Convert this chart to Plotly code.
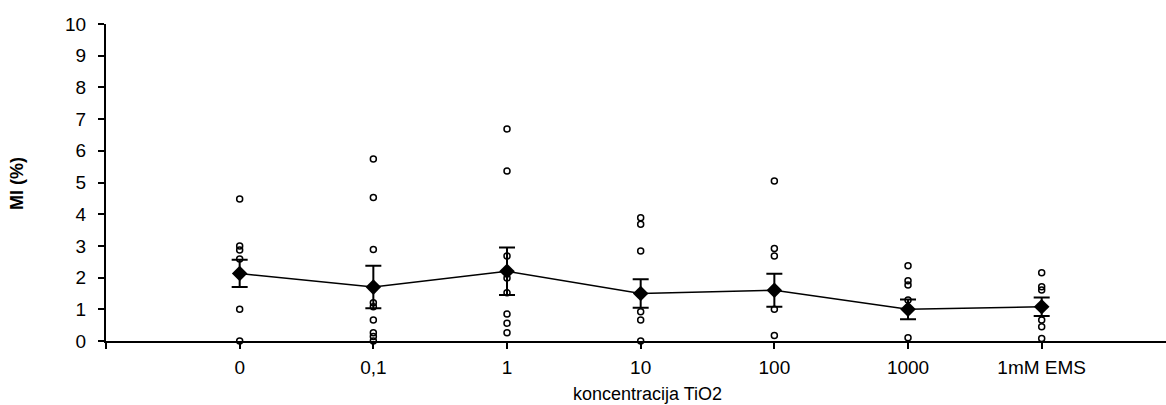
import plotly.graph_objects as go

# Category labels (TiO2 concentration) and their slot positions on the x axis
categories = ["0", "0,1", "1", "10", "100", "1000", "1mM EMS"]
positions = [1, 2, 3, 4, 5, 6, 7]

# Individual MI (%) values per concentration
individual = [
    [4.48, 3.0, 2.87, 2.59, 1.0, 0.0],
    [5.74, 4.53, 2.89, 1.21, 1.08, 0.66, 0.26, 0.14, 0.0],
    [6.69, 5.36, 2.68, 1.99, 1.52, 0.85, 0.56, 0.26],
    [3.89, 3.68, 2.84, 0.92, 0.66, 0.0],
    [5.05, 2.92, 2.68, 1.0, 0.17],
    [2.37, 1.9, 1.77, 1.29, 0.1],
    [2.15, 1.71, 1.61, 0.66, 0.45, 0.08],
]

# Group means and standard errors
means = [2.13, 1.7, 2.2, 1.5, 1.6, 1.0, 1.08]
errors = [0.43, 0.67, 0.75, 0.45, 0.52, 0.31, 0.29]

y_ticks = list(range(0, 11))

xs, ys = [], []
for pos, vals in zip(positions, individual):
    xs.extend([pos] * len(vals))
    ys.extend(vals)

fig = go.Figure()

fig.add_trace(go.Scatter(
    x=xs, y=ys, mode="markers",
    marker=dict(symbol="circle-open", size=6, color="black", line=dict(width=1.5)),
    cliponaxis=False, showlegend=False, hoverinfo="y",
))

fig.add_trace(go.Scatter(
    x=positions, y=means, mode="lines+markers",
    line=dict(color="black", width=1.5),
    marker=dict(symbol="diamond", size=12, color="black"),
    error_y=dict(type="data", array=errors, visible=True,
                 color="black", thickness=2, width=8),
    cliponaxis=False, showlegend=False,
))

font_family = "Liberation Sans, Arial, sans-serif"

L, T, B = 106, 24, 64
plot_w = 1166 - L
plot_h = 405 - T - B

fig.update_layout(
    width=1166, height=405,
    margin=dict(l=L, r=0, t=T, b=B),
    plot_bgcolor="white", paper_bgcolor="white",
    font=dict(family=font_family, color="black", size=19),
    xaxis=dict(
        range=[0, 7.93],
        tickvals=[0] + positions,
        ticktext=[""] + categories,
        ticks="outside", ticklen=6, tickwidth=1.5, tickcolor="black",
        ticklabelstandoff=2,
        showline=True, linecolor="black", linewidth=2,
        showgrid=False, zeroline=False,
        tickfont=dict(size=19, family=font_family),
    ),
    yaxis=dict(
        range=[0, 10],
        tickvals=y_ticks,
        ticks="outside", ticklen=6, tickwidth=1.5, tickcolor="black",
        ticklabelstandoff=8,
        showline=True, linecolor="black", linewidth=2,
        showgrid=False, zeroline=False,
        tickfont=dict(size=19, family=font_family),
    ),
    annotations=[
        dict(text="koncentracija TiO2", x=4.05, xref="x",
             y=-B / plot_h, yref="paper", yshift=-1,
             xanchor="center", yanchor="bottom", showarrow=False,
             font=dict(size=18, family=font_family)),
        dict(text="<b>MI (%)</b>", xref="paper", yref="paper",
             x=(17 - L) / plot_w, y=(341 - 184) / plot_h,
             xanchor="center", yanchor="middle",
             showarrow=False, textangle=-90, font=dict(size=18, family=font_family)),
    ],
)

fig.write_html("out.html")
